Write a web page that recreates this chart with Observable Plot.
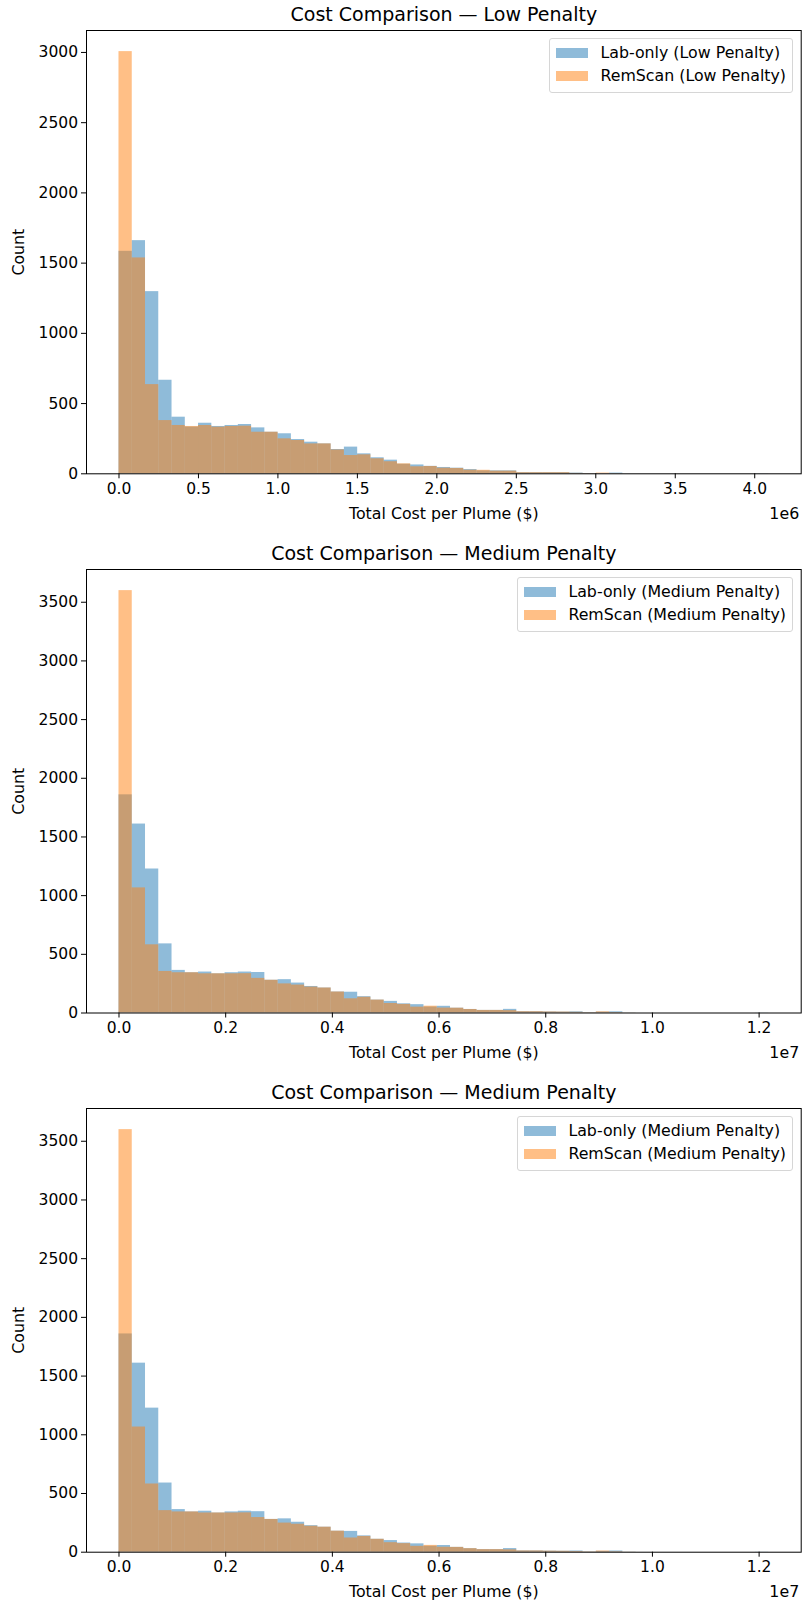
<!DOCTYPE html>
<html><head><meta charset="utf-8">
<script src="https://cdn.jsdelivr.net/npm/d3@7"></script>
<script src="https://cdn.jsdelivr.net/npm/@observablehq/plot@0.6"></script>
<style>
body{margin:0;background:#fff;font-family:"DejaVu Sans",sans-serif;}
.panel{position:relative;width:803px;overflow:hidden;}
.panel svg{display:block;}
.legend{position:absolute;right:10px;top:38px;border:1px solid #d6d6d6;border-radius:3px;background:rgba(255,255,255,0.8);padding:2px 6px 4px 6px;font-size:15.8px;color:#000;}
.row{display:flex;align-items:center;height:23.3px;white-space:nowrap;}
.sw{width:32px;height:10px;margin-right:12.5px;}
</style></head><body><div id="root"></div>
<script>
// ---- data (counts per histogram bin, 49 equal bins from 0 to the max cost) ----
const binCount = 49;
const lowMax = 4.088e6;
const medMax = 1.218e7;

const labLow = [1584,1660,1297,666,403,333,360,337,344,351,327,296,285,244,225,213,173,190,142,114,97,68,63,53,45,40,30,21,21,21,8,8,8,8,5,2,1,5,0,0,0,0,0,0,0,0,0,0,1];
const remLow = [3006,1537,635,379,344,337,344,332,337,339,296,296,249,237,213,213,170,130,135,107,86,71,50,52,40,38,26,25,19,19,8,8,8,8,3,2,5,1,0,0,0,0,0,0,0,0,0,0,0];

const labMed = [1859,1610,1227,589,363,343,349,334,343,349,345,279,284,255,226,213,179,177,139,110,99,78,71,51,57,41,30,22,22,31,11,11,9,8,10,3,7,10,1,0,0,0,0,0,0,0,0,0,1];
const remMed = [3599,1066,581,354,343,343,334,334,334,335,295,279,248,238,221,213,179,121,134,110,81,73,50,58,42,41,30,22,22,20,11,11,9,8,6,3,10,4,1,0,0,0,0,0,0,0,0,0,0];

const lowXTicks = [0, 0.5e6, 1.0e6, 1.5e6, 2.0e6, 2.5e6, 3.0e6, 3.5e6, 4.0e6];
const medXTicks = [0, 0.2e7, 0.4e7, 0.6e7, 0.8e7, 1.0e7, 1.2e7];
const lowYTicks = [0, 500, 1000, 1500, 2000, 2500, 3000];
const medYTicks = [0, 500, 1000, 1500, 2000, 2500, 3000, 3500];

const titles = ["Cost Comparison — Low Penalty", "Cost Comparison — Medium Penalty", "Cost Comparison — Medium Penalty"];
const labNames = ["Lab-only (Low Penalty)", "Lab-only (Medium Penalty)", "Lab-only (Medium Penalty)"];
const remNames = ["RemScan (Low Penalty)", "RemScan (Medium Penalty)", "RemScan (Medium Penalty)"];
const xLabel = "Total Cost per Plume ($)";
const yLabel = "Count";

const BLUE = "#1f77b4", ORANGE = "#ff7f0e";

const panels = [
  {title: titles[0], labName: labNames[0], remName: remNames[0], lab: labLow, rem: remLow, max: lowMax, xTicks: lowXTicks, exp: 6, yTicks: lowYTicks, height: 539, mb: 65.7},
  {title: titles[1], labName: labNames[1], remName: remNames[1], lab: labMed, rem: remMed, max: medMax, xTicks: medXTicks, exp: 7, yTicks: medYTicks, height: 539, mb: 65.5},
  {title: titles[2], labName: labNames[2], remName: remNames[2], lab: labMed, rem: remMed, max: medMax, xTicks: medXTicks, exp: 7, yTicks: medYTicks, height: 528, mb: 54.3}
];

const root = document.getElementById("root");

for (const p of panels) {
  const w = p.max / binCount;
  const toRows = arr => arr.map((c, i) => ({x1: i * w, x2: (i + 1) * w, y: c}));
  const labRows = toRows(p.lab), remRows = toRows(p.rem);
  const yMax = d3.max([...p.lab, ...p.rem]) * 1.05;
  const scale = Math.pow(10, p.exp);

  const chart = Plot.plot({
    width: 803,
    height: p.height,
    marginLeft: 86,
    marginRight: 2.3,
    marginTop: 30,
    marginBottom: p.mb,
    style: {fontFamily: "DejaVu Sans, sans-serif", fontSize: "15.5px", color: "#000", background: "#fff", overflow: "visible"},
    x: {domain: [-0.05 * p.max, 1.05 * p.max]},
    y: {domain: [0, yMax]},
    marks: [
      Plot.rectY(labRows, {x1: "x1", x2: "x2", y: "y", fill: BLUE, fillOpacity: 0.5}),
      Plot.rectY(remRows, {x1: "x1", x2: "x2", y: "y", fill: ORANGE, fillOpacity: 0.5}),
      Plot.frame({stroke: "#000", strokeWidth: 1}),
      Plot.axisX({ticks: p.xTicks, tickFormat: d => (d / scale).toFixed(1), tickSize: 5, tickPadding: 4, label: null, strokeWidth: 1}),
      Plot.axisY({ticks: p.yTicks, tickFormat: d => String(d), tickSize: 5, tickPadding: 3.5, label: null, strokeWidth: 1}),
      Plot.text([p.title], {text: d => d, frameAnchor: "top", dy: -16, fontSize: 19, lineAnchor: "middle"}),
      Plot.text([xLabel], {text: d => d, frameAnchor: "bottom", dy: 40, fontSize: 15.8, lineAnchor: "middle"}),
      Plot.text(["1e" + p.exp], {text: d => d, frameAnchor: "bottom-right", dy: 40, dx: -2, fontSize: 15.8, textAnchor: "end", lineAnchor: "middle"}),
      Plot.text([yLabel], {text: d => d, frameAnchor: "left", dx: -68, rotate: -90, fontSize: 15.8, textAnchor: "middle", lineAnchor: "middle"})
    ]
  });

  const wrap = document.createElement("div");
  wrap.className = "panel";
  wrap.style.height = p.height + "px";
  wrap.appendChild(chart);

  const leg = document.createElement("div");
  leg.className = "legend";
  for (const [name, col] of [[p.labName, BLUE], [p.remName, ORANGE]]) {
    const row = document.createElement("div");
    row.className = "row";
    const sw = document.createElement("span");
    sw.className = "sw";
    sw.style.background = col;
    sw.style.opacity = 0.5;
    const tx = document.createElement("span");
    tx.textContent = name;
    row.appendChild(sw);
    row.appendChild(tx);
    leg.appendChild(row);
  }
  wrap.appendChild(leg);
  root.appendChild(wrap);
}
</script>
</body></html>
